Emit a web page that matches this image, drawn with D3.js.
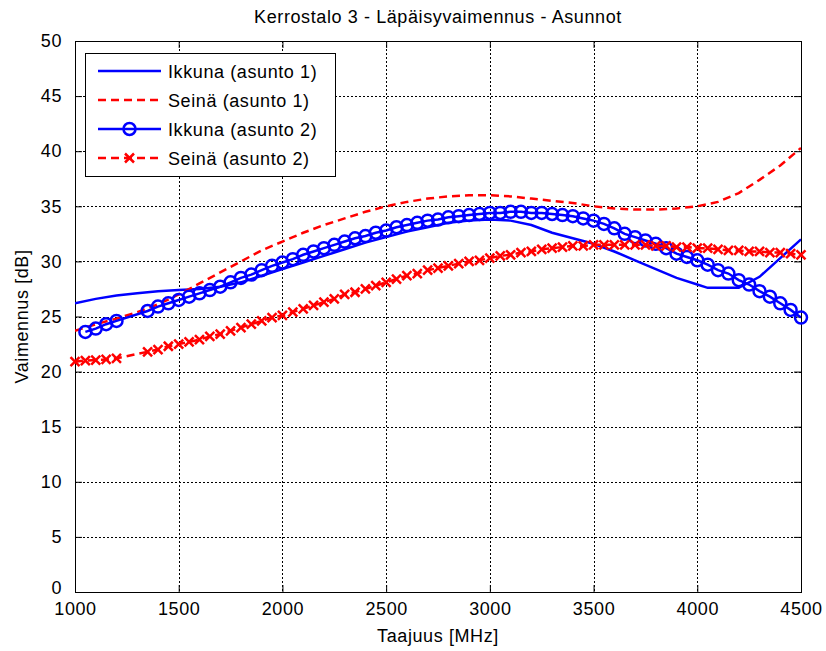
<!DOCTYPE html>
<html>
<head>
<meta charset="utf-8">
<script src="https://cdn.jsdelivr.net/npm/d3@7"></script>
<style>
  body { margin: 0; background: #fff; }
  svg { display: block; }
  text { font-family: Arial, "Liberation Sans", Helvetica, sans-serif; fill: #000; letter-spacing: 0.6px; }
</style>
</head>
<body>
<svg width="826" height="651"></svg>
<script>
// chart data
var xTicks = [1000, 1500, 2000, 2500, 3000, 3500, 4000, 4500];
var yTicks = [0, 5, 10, 15, 20, 25, 30, 35, 40, 45, 50];

// Ikkuna (asunto 1) - solid blue
var ikkuna1Freq = [1000, 1100, 1200, 1300, 1400, 1500, 1600, 1700, 1800, 1900, 2000, 2100, 2200, 2300, 2400, 2500,
  2600, 2700, 2800, 2900, 3000, 3100, 3200, 3300, 3400, 3500, 3600, 3700, 3800, 3900, 4000, 4050, 4200, 4300, 4400, 4500];
var ikkuna1 = [26.2, 26.6, 26.9, 27.1, 27.3, 27.4, 27.5, 27.7, 28.1, 28.7, 29.3, 29.9, 30.5, 31.1, 31.7, 32.2,
  32.7, 33.1, 33.5, 33.7, 33.8, 33.7, 33.3, 32.6, 32.1, 31.6, 30.9, 30.1, 29.3, 28.5, 27.9, 27.6, 27.6, 28.6, 30.3, 32.0];

// Seinä (asunto 1) - dashed red
var seina1Freq = [1000, 1100, 1200, 1300, 1400, 1500, 1600, 1700, 1800, 1900, 2000, 2100, 2200, 2300, 2400, 2500,
  2600, 2700, 2800, 2900, 3000, 3100, 3200, 3300, 3400, 3500, 3600, 3700, 3800, 3900, 4000, 4100, 4200, 4300, 4400, 4500];
var seina1 = [23.7, 24.3, 24.8, 25.4, 26.1, 27.0, 28.0, 29.0, 30.0, 31.0, 31.8, 32.6, 33.3, 33.9, 34.5, 35.0,
  35.4, 35.7, 35.9, 36.0, 36.0, 35.9, 35.7, 35.5, 35.3, 35.0, 34.8, 34.7, 34.7, 34.8, 35.0, 35.4, 36.2, 37.4, 38.7, 40.3];

// Ikkuna (asunto 2) - blue with circles
var ikkuna2Freq = [1050, 1100, 1150, 1200, 1350, 1400, 1450, 1500, 1550, 1600, 1650, 1700, 1750, 1800, 1850, 1900,
  1950, 2000, 2050, 2100, 2150, 2200, 2250, 2300, 2350, 2400, 2450, 2500, 2550, 2600, 2650, 2700, 2750, 2800,
  2850, 2900, 2950, 3000, 3050, 3100, 3150, 3200, 3250, 3300, 3350, 3400, 3450, 3500, 3550, 3600, 3650, 3700,
  3750, 3800, 3850, 3900, 3950, 4000, 4050, 4100, 4150, 4200, 4250, 4300, 4350, 4400, 4450, 4500];
var ikkuna2 = [23.6, 23.9, 24.3, 24.6, 25.5, 25.9, 26.2, 26.5, 26.8, 27.1, 27.4, 27.7, 28.1, 28.5, 28.8, 29.2,
  29.6, 29.9, 30.2, 30.6, 30.9, 31.2, 31.5, 31.8, 32.1, 32.3, 32.6, 32.8, 33.1, 33.3, 33.5, 33.7, 33.8, 34.0,
  34.1, 34.2, 34.3, 34.4, 34.4, 34.5, 34.5, 34.4, 34.4, 34.3, 34.2, 34.1, 33.9, 33.7, 33.4, 33.0, 32.5, 32.2,
  31.9, 31.6, 31.2, 30.7, 30.4, 30.1, 29.7, 29.2, 28.9, 28.3, 27.9, 27.3, 26.8, 26.2, 25.6, 24.9];

// Seinä (asunto 2) - dashed red with crosses
var seina2Freq = [1000, 1050, 1100, 1150, 1200, 1350, 1400, 1450, 1500, 1550, 1600, 1650, 1700, 1750, 1800, 1850,
  1900, 1950, 2000, 2050, 2100, 2150, 2200, 2250, 2300, 2350, 2400, 2450, 2500, 2550, 2600, 2650, 2700, 2750,
  2800, 2850, 2900, 2950, 3000, 3050, 3100, 3150, 3200, 3250, 3300, 3350, 3400, 3450, 3500, 3550, 3600, 3650,
  3700, 3750, 3800, 3850, 3900, 3950, 4000, 4050, 4100, 4150, 4200, 4250, 4300, 4350, 4400, 4450, 4500];
var seina2 = [20.9, 21.0, 21.05, 21.1, 21.2, 21.8, 22.0, 22.3, 22.5, 22.7, 22.9, 23.2, 23.4, 23.7, 24.0, 24.3,
  24.6, 24.9, 25.1, 25.4, 25.7, 26.0, 26.3, 26.6, 27.0, 27.2, 27.5, 27.8, 28.1, 28.4, 28.7, 28.9, 29.2, 29.4,
  29.6, 29.8, 30.0, 30.1, 30.3, 30.5, 30.6, 30.8, 30.9, 31.1, 31.2, 31.3, 31.4, 31.4, 31.5, 31.5, 31.5, 31.5,
  31.5, 31.5, 31.4, 31.4, 31.3, 31.3, 31.2, 31.2, 31.1, 31.0, 31.0, 30.9, 30.9, 30.8, 30.8, 30.7, 30.6];

var seriesNames = ["Ikkuna (asunto 1)", "Seinä (asunto 1)", "Ikkuna (asunto 2)", "Seinä (asunto 2)"];

var svg = d3.select("svg");
var mLeft = 75, mRight = 801, mTop = 41, mBottom = 592;
var fontSize = 18;
var lw = 2.5;

var x = d3.scaleLinear().domain([1000, 4500]).range([mLeft, mRight]);
var y = d3.scaleLinear().domain([0, 50]).range([mBottom, mTop]);

function zip(fs, vs) {
  return fs.map(function(f, i) { return [f, vs[i]]; });
}

var series = [
  {name: seriesNames[0], data: zip(ikkuna1Freq, ikkuna1), color: "#0000ff", dash: null, marker: null},
  {name: seriesNames[1], data: zip(seina1Freq, seina1), color: "#ff0000", dash: "8,5", marker: null},
  {name: seriesNames[2], data: zip(ikkuna2Freq, ikkuna2), color: "#0000ff", dash: null, marker: "circle"},
  {name: seriesNames[3], data: zip(seina2Freq, seina2), color: "#ff0000", dash: "8,5", marker: "cross"}
];

// grid
var grid = svg.append("g");
grid.selectAll(".gx").data(xTicks.slice(1, -1)).enter().append("line")
  .attr("x1", function(d) { return Math.round(x(d)) + 0.5; })
  .attr("x2", function(d) { return Math.round(x(d)) + 0.5; })
  .attr("y1", mTop).attr("y2", mBottom)
  .attr("stroke", "#000").attr("stroke-width", 1).attr("stroke-dasharray", "2,2");
grid.selectAll(".gy").data(yTicks.slice(1, -1)).enter().append("line")
  .attr("y1", function(d) { return Math.round(y(d)) + 0.5; })
  .attr("y2", function(d) { return Math.round(y(d)) + 0.5; })
  .attr("x1", mLeft).attr("x2", mRight)
  .attr("stroke", "#000").attr("stroke-width", 1).attr("stroke-dasharray", "2,2");

// axes (MATLAB style: ticks inward on all sides)
var tickLen = 7;
var fmt = d3.format("d");
var axBottom = svg.append("g").attr("transform", "translate(0," + mBottom + ")")
  .call(d3.axisBottom(x).tickValues(xTicks).tickFormat(fmt).tickSize(-tickLen).tickPadding(tickLen + 3));
var axTop = svg.append("g").attr("transform", "translate(0," + mTop + ")")
  .call(d3.axisTop(x).tickValues(xTicks).tickSize(-tickLen).tickFormat(""));
var axLeft = svg.append("g").attr("transform", "translate(" + mLeft + ",0)")
  .call(d3.axisLeft(y).tickValues(yTicks).tickFormat(fmt).tickSize(-tickLen).tickPadding(tickLen + 6));
var axRight = svg.append("g").attr("transform", "translate(" + mRight + ",0)")
  .call(d3.axisRight(y).tickValues(yTicks).tickSize(-tickLen).tickFormat(""));

[axBottom, axTop, axLeft, axRight].forEach(function(a) {
  a.select(".domain").remove();
  a.selectAll("line").attr("stroke", "#000");
  a.selectAll("text").style("font-size", fontSize + "px")
    .style("font-family", "Arial, 'Liberation Sans', sans-serif").attr("fill", "#000");
});
// the "0" label sits a little higher, as in the original
axLeft.selectAll(".tick").filter(function(d) { return d === 0; }).select("text").attr("dy", "0.1em");

svg.append("rect")
  .attr("x", mLeft + 0.5).attr("y", mTop + 0.5)
  .attr("width", mRight - mLeft).attr("height", mBottom - mTop)
  .attr("fill", "none").attr("stroke", "#000").attr("stroke-width", 1);

// lines
svg.append("clipPath").attr("id", "plotclip").append("rect")
  .attr("x", mLeft).attr("y", mTop).attr("width", mRight - mLeft).attr("height", mBottom - mTop);

var line = d3.line().x(function(d) { return x(d[0]); }).y(function(d) { return y(d[1]); });

var plot = svg.append("g");

function drawMarker(g, type, color, cx, cy) {
  if (type === "circle") {
    g.append("circle").attr("cx", cx).attr("cy", cy).attr("r", 6)
      .attr("fill", "none").attr("stroke", color).attr("stroke-width", lw);
  } else if (type === "cross") {
    var s = 4.5;
    g.append("path")
      .attr("d", "M" + (cx - s) + "," + (cy - s) + "L" + (cx + s) + "," + (cy + s) +
        "M" + (cx - s) + "," + (cy + s) + "L" + (cx + s) + "," + (cy - s))
      .attr("stroke", color).attr("stroke-width", lw).attr("fill", "none");
  }
}

series.forEach(function(s) {
  plot.append("path").datum(s.data)
    .attr("d", line)
    .attr("clip-path", "url(#plotclip)")
    .attr("fill", "none")
    .attr("stroke", s.color)
    .attr("stroke-width", lw)
    .attr("stroke-dasharray", s.dash);
  if (s.marker) {
    var mg = plot.append("g");
    s.data.forEach(function(d) {
      drawMarker(mg, s.marker, s.color, x(d[0]), y(d[1]));
    });
  }
});

// legend
var legend = svg.append("g");
legend.append("rect")
  .attr("x", 85.5).attr("y", 53.5).attr("width", 250).attr("height", 123)
  .attr("fill", "#fff").attr("stroke", "#000").attr("stroke-width", 1);
series.forEach(function(s, i) {
  var ly = 71 + i * 29;
  legend.append("line")
    .attr("x1", 98).attr("x2", 161).attr("y1", ly).attr("y2", ly)
    .attr("stroke", s.color).attr("stroke-width", lw).attr("stroke-dasharray", s.dash);
  if (s.marker) drawMarker(legend, s.marker, s.color, 129.5, ly);
  legend.append("text")
    .attr("x", 168).attr("y", ly + 6.5)
    .style("font-size", fontSize + "px")
    .text(s.name);
});

// title and axis labels
svg.append("text")
  .attr("x", (mLeft + mRight) / 2).attr("y", 23)
  .attr("text-anchor", "middle").style("font-size", fontSize + "px")
  .text("Kerrostalo 3 - Läpäisyvaimennus - Asunnot");
svg.append("text")
  .attr("x", (mLeft + mRight) / 2).attr("y", 642)
  .attr("text-anchor", "middle").style("font-size", fontSize + "px")
  .text("Taajuus [MHz]");
svg.append("text")
  .attr("transform", "translate(28," + ((mTop + mBottom) / 2) + ") rotate(-90)")
  .attr("text-anchor", "middle").style("font-size", fontSize + "px")
  .text("Vaimennus [dB]");
</script>
</body>
</html>
